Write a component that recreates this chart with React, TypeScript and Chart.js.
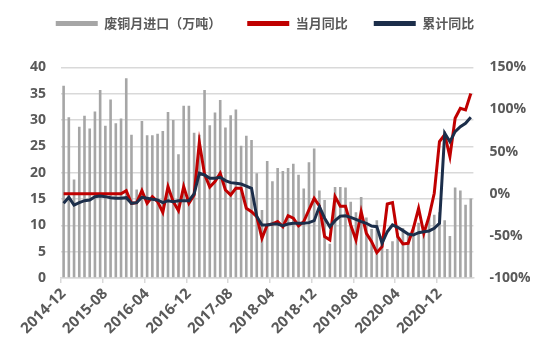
import React, { useEffect, useRef } from 'react';
import { Chart, registerables } from 'chart.js';

Chart.register(...registerables);

const months = [
  '2014-12', '2015-01', '2015-02', '2015-03', '2015-04', '2015-05', '2015-06', '2015-07', '2015-08', '2015-09', '2015-10', '2015-11',
  '2015-12', '2016-01', '2016-02', '2016-03', '2016-04', '2016-05', '2016-06', '2016-07', '2016-08', '2016-09', '2016-10', '2016-11',
  '2016-12', '2017-01', '2017-02', '2017-03', '2017-04', '2017-05', '2017-06', '2017-07', '2017-08', '2017-09', '2017-10', '2017-11',
  '2017-12', '2018-01', '2018-02', '2018-03', '2018-04', '2018-05', '2018-06', '2018-07', '2018-08', '2018-09', '2018-10', '2018-11',
  '2018-12', '2019-01', '2019-02', '2019-03', '2019-04', '2019-05', '2019-06', '2019-07', '2019-08', '2019-09', '2019-10', '2019-11',
  '2019-12', '2020-01', '2020-02', '2020-03', '2020-04', '2020-05', '2020-06', '2020-07', '2020-08', '2020-09', '2020-10', '2020-11',
  '2020-12', '2021-01', '2021-02', '2021-03', '2021-04', '2021-05', '2021-06',
];

// 废铜月进口（万吨）
const importVolume = [
  36.5, 30.5, 18.7, 28.7, 30.8, 28.4, 31.6, 35.7, 28.9, 33.9, 29.4, 30.3,
  37.9, 27.2, 16.8, 29.8, 27.1, 27.1, 27.4, 27.9, 31.5, 30.0, 23.5, 32.7,
  32.7, 27.6, 27.2, 35.7, 29.0, 31.4, 33.8, 28.6, 30.9, 32.0, 25.1, 27.0,
  26.2, 19.9, 12.9, 22.2, 18.4, 20.9, 20.3, 20.9, 21.7, 19.6, 17.0, 22.0,
  24.6, 16.6, 14.8, 6.5, 17.3, 17.3, 17.2, 14.5, 12.5, 15.4, 11.5, 9.3,
  11.0, 8.0, 5.5, 7.0, 8.5, 9.5, 8.5, 9.8, 10.5, 9.0, 11.5, 12.0,
  12.5, 11.0, 8.0, 17.2, 16.6, 13.9, 15.1,
];

// 当月同比 (%)
const monthlyYoY = [
  0, 0, 0, 0, 0, 0, 0, 0, 0, 0, 0, 0,
  3.7, -11.3, -10.5, 3.7, -11.3, -3.4, -9.3, -22, 8.5, -9.3, -20, 8.5,
  -11.3, -1.4, 61, 23, 8, 14.4, 24.3, 4.5, -1.4, 6.5, 6.5, -17.2,
  -21.2, -27, -52.8, -37, -35.8, -33, -39, -26, -29, -38, -33, -19.2,
  -5.4, -14.5, -50.8, -54.8, -3.4, -14.8, -14.8, -37, -54.8, -21.2, -46.9, -56.8,
  -69.8, -62.7, -12.1, -10.5, -50.8, -59.5, -58.7, -41, -17.2, -46.9, -27, 0.6,
  61.8, 70, 44, 89.5, 101.4, 99.4, 119,
];

// 累计同比 (%)
const cumulativeYoY = [
  -11.3, -4.2, -13.3, -10.5, -8.2, -7.4, -3.4, -2.6, -3.4, -4.6, -5.4, -5.4,
  -4.6, -11.3, -10.5, -4.2, -5.4, -6.5, -7.4, -10.5, -8.2, -9.3, -8.2, -8.2,
  -8.2, 0, 24.3, 22.3, 18.4, 18.4, 19.6, 15.6, 13.2, 12.4, 11.6, 9.2,
  6.5, -27, -37, -37, -35.8, -35.8, -37.8, -35.8, -35, -35, -35, -34.2,
  -31.9, -15.2, -29, -39, -31.9, -26.5, -26, -28, -30.3, -33, -35, -38.2,
  -39, -58.7, -45, -37, -39.8, -43.7, -47.7, -48.9, -46.1, -45, -44.1, -41,
  -35, 72, 61.8, 73.7, 79.6, 83.6, 90.7,
];

const seriesNames = ['废铜月进口（万吨）', '当月同比', '累计同比'];
const seriesColors = ['#a6a6a6', '#c00000', '#1c2e4a'];

export default function App() {
  const ref = useRef<HTMLCanvasElement>(null);

  useEffect(() => {
    if (!ref.current) return;
    const textColor = '#595959';
    const gridColor = '#d9d9d9';
    const tickFont = { family: "'Open Sans', 'Noto Sans CJK SC', sans-serif", size: 14, weight: 'bold' as const };

    const legendPlacement = {
      id: 'legendPlacement',
      beforeInit(chart: any) {
        const orig = chart.legend.fit;
        chart.legend.fit = function fit() {
          orig.bind(chart.legend)();
          this.height = 67.3;
        };
      },
      afterLayout(chart: any) {
        if (chart.legend) chart.legend.top = -9;
      },
    };

    const chart = new Chart(ref.current, {
      type: 'bar',
      data: {
        labels: months,
        datasets: [
          {
            type: 'bar',
            label: seriesNames[0],
            data: importVolume,
            backgroundColor: seriesColors[0],
            yAxisID: 'y',
            categoryPercentage: 1,
            barPercentage: 0.5,
            order: 3,
          },
          {
            type: 'line',
            label: seriesNames[1],
            data: monthlyYoY,
            borderColor: seriesColors[1],
            backgroundColor: seriesColors[1],
            borderWidth: 3,
            pointRadius: 0,
            tension: 0,
            yAxisID: 'y1',
            order: 2,
          },
          {
            type: 'line',
            label: seriesNames[2],
            data: cumulativeYoY,
            borderColor: seriesColors[2],
            backgroundColor: seriesColors[2],
            borderWidth: 3,
            pointRadius: 0,
            tension: 0,
            yAxisID: 'y1',
            order: 1,
          },
        ] as any,
      },
      options: {
        responsive: false,
        animation: false,
        devicePixelRatio: 1,
        layout: { padding: { top: 0, right: 20, left: 0, bottom: 0 } },
        plugins: {
          tooltip: { enabled: false },
          legend: {
            position: 'top',
            labels: {
              boxWidth: 42,
              boxHeight: 5,
              padding: 26,
              color: textColor,
              font: { family: "'Noto Sans CJK SC', sans-serif", size: 13, weight: 'bold' },
              generateLabels: () =>
                seriesNames.map((name, i) => ({
                  text: name,
                  fillStyle: seriesColors[i],
                  strokeStyle: seriesColors[i],
                  lineWidth: 0,
                  hidden: false,
                  datasetIndex: i,
                  fontColor: textColor,
                })),
            },
          },
        },
        scales: {
          x: {
            offset: true,
            grid: {
              offset: true,
              drawOnChartArea: false,
              drawTicks: true,
              tickLength: 5,
              lineWidth: 1.5,
              color: (ctx: any) => (ctx.index % 8 === 0 ? gridColor : 'rgba(0,0,0,0)'),
            },
            border: { display: true, color: gridColor, width: 1.5 },
            ticks: {
              autoSkip: false,
              minRotation: 45,
              maxRotation: 45,
              padding: 2,
              color: textColor,
              font: { ...tickFont, size: 15 },
              callback: (_v: any, i: number) => (i % 8 === 0 ? months[i] : ''),
            },
            afterFit: (scale: any) => {
              scale.height = 74.9;
            },
          },
          y: {
            position: 'left',
            min: 0,
            max: 40,
            ticks: { stepSize: 5, padding: 15, color: textColor, font: tickFont },
            grid: { color: gridColor, lineWidth: 1.5, drawTicks: false },
            border: { display: false },
            afterFit: (scale: any) => {
              scale.width = 61;
            },
          },
          y1: {
            position: 'right',
            min: -100,
            max: 150,
            ticks: {
              stepSize: 50,
              padding: 16,
              color: textColor,
              font: tickFont,
              callback: (v: any) => `${v}%`,
            },
            grid: { display: false, drawTicks: false },
            border: { display: false },
            afterFit: (scale: any) => {
              scale.width = 56.6;
            },
          },
        },
      },
      plugins: [legendPlacement],
    });

    return () => chart.destroy();
  }, []);

  return (
    <div style={{ position: 'fixed', left: 0, top: 0, width: 550, height: 353, background: '#fff' }}>
      <canvas ref={ref} width={550} height={353} style={{ width: 550, height: 353 }} />
    </div>
  );
}
